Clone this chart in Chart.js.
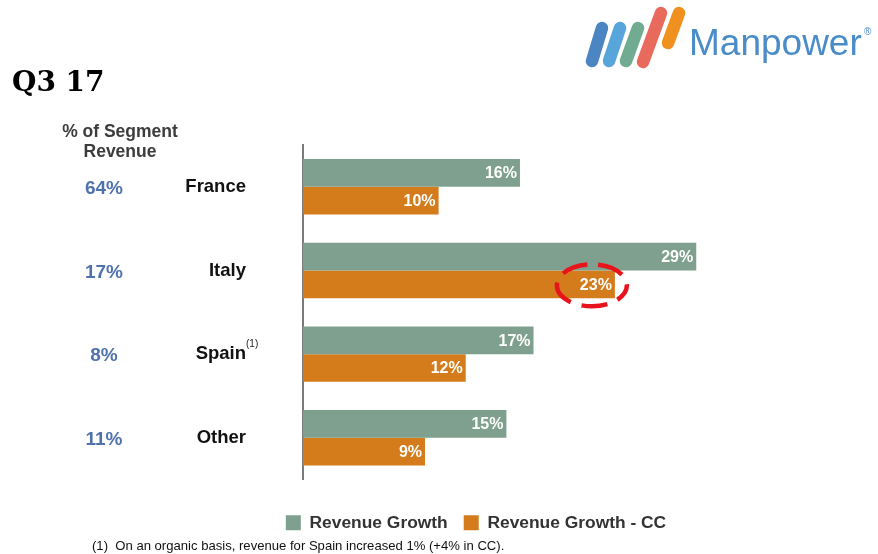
<!DOCTYPE html>
<html><head><meta charset="utf-8">
<script src="https://cdn.jsdelivr.net/npm/chart.js@4"></script>
<style>
html,body{margin:0;padding:0;background:#fff;}
#wrap{position:relative;width:878px;height:554px;overflow:hidden;background:#fff;}
#chart{position:absolute;left:0;top:0;}
.t{position:absolute;white-space:nowrap;}
</style></head><body>
<div id="wrap">
<canvas id="chart" width="878" height="554"></canvas>
<div class="t" style="left:12px;top:68px;font:bold 28px 'DejaVu Serif',serif;line-height:28px;color:#000">Q3 17</div>
<div class="t" style="left:40px;top:121px;width:160px;text-align:center;font:bold 17.5px 'Liberation Sans',Arial,sans-serif;line-height:20px;color:#3c3c3c;white-space:normal">% of Segment<br>Revenue</div>
<div class="t" style="left:92px;top:539px;font:13.1px 'Liberation Sans',Arial,sans-serif;line-height:14px;color:#111">(1)&nbsp; On an organic basis, revenue for Spain increased 1% (+4% in CC).</div>
<svg class="t" style="left:0;top:0" width="878" height="80" xmlns="http://www.w3.org/2000/svg">
  <g stroke-linecap="round" stroke-width="12.5" fill="none">
    <line x1="592" y1="61" x2="602" y2="28" stroke="#4b86c2"/>
    <line x1="609" y1="61" x2="620" y2="28" stroke="#58a5dc"/>
    <line x1="626" y1="61" x2="638" y2="28" stroke="#70ab92"/>
    <line x1="643" y1="62" x2="661" y2="13" stroke="#e86a5c"/>
    <line x1="668" y1="43" x2="679" y2="13" stroke="#f0901f"/>
  </g>
  <text x="689" y="55" font-family="'Liberation Sans',Arial,sans-serif" font-size="37" fill="#4a8cc8">Manpower</text>
  <text x="864" y="35" font-family="'Liberation Sans',Arial,sans-serif" font-size="10" fill="#4a8cc8">®</text>
</svg>
</div>
<script>
// ---- data ----
const categories = ['France', 'Italy', 'Spain', 'Other'];
const segmentShare = [64, 17, 8, 11];          // % of Segment Revenue
const revenueGrowth = [16, 29, 17, 15];        // Revenue Growth (%)
const revenueGrowthCC = [10, 23, 12, 9];       // Revenue Growth - CC (%)
const seriesNames = ['Revenue Growth', 'Revenue Growth - CC'];
const footnoteCategory = 'Spain';
const highlighted = {dataset: 1, category: 'Italy'};

Chart.defaults.font.family = "'Liberation Sans', Arial, sans-serif";

const overlay = {
  id: 'overlay',
  afterDatasetsDraw(chart) {
    const ctx = chart.ctx;
    ctx.save();
    ctx.font = "bold 16px 'Liberation Sans', Arial, sans-serif";
    ctx.fillStyle = '#ffffff';
    ctx.textAlign = 'right';
    ctx.textBaseline = 'middle';
    chart.data.datasets.forEach((ds, di) => {
      chart.getDatasetMeta(di).data.forEach((bar, i) => {
        ctx.fillText(ds.data[i] + '%', bar.x - 3, bar.y + 1);
      });
    });
    const hb = chart.getDatasetMeta(highlighted.dataset).data[categories.indexOf(highlighted.category)];
    ctx.strokeStyle = '#e8141b';
    ctx.lineWidth = 4.5;
    ctx.setLineDash([26, 11]);
    ctx.lineDashOffset = 8;
    ctx.beginPath();
    ctx.ellipse(hb.x - 23, hb.y + 1, 35, 21, 0, 0, Math.PI * 2);
    ctx.stroke();
    ctx.restore();
  },
  afterDraw(chart) {
    const ctx = chart.ctx;
    const ys = chart.scales.y;
    ctx.save();
    ctx.textBaseline = 'middle';
    ctx.textAlign = 'center';
    ctx.font = "bold 19px 'Liberation Sans', Arial, sans-serif";
    ctx.fillStyle = '#4f72ad';
    categories.forEach((c, i) => {
      ctx.fillText(segmentShare[i] + '%', 104, ys.getPixelForValue(i) + 2);
    });
    const fi = categories.indexOf(footnoteCategory);
    ctx.textAlign = 'left';
    ctx.font = "10px 'Liberation Sans', Arial, sans-serif";
    ctx.fillStyle = '#222';
    ctx.fillText('(1)', 246, ys.getPixelForValue(fi) - 10);
    ctx.restore();
  }
};

new Chart(document.getElementById('chart'), {
  type: 'bar',
  data: {
    labels: categories,
    datasets: [
      {label: seriesNames[0], data: revenueGrowth, backgroundColor: '#7fa08e', borderWidth: 0,
       categoryPercentage: 0.663, barPercentage: 1},
      {label: seriesNames[1], data: revenueGrowthCC, backgroundColor: '#d47b1b', borderWidth: 0,
       categoryPercentage: 0.663, barPercentage: 1}
    ]
  },
  options: {
    indexAxis: 'y',
    responsive: false,
    devicePixelRatio: 1,
    animation: false,
    layout: {padding: {top: 145, left: 106.6, right: 32.6, bottom: 12.5}},
    scales: {
      x: {
        min: 0, max: 40,
        ticks: {display: false},
        grid: {display: false, drawTicks: false},
        border: {display: false},
        afterFit: s => { s.height = 18.5; }
      },
      y: {
        ticks: {padding: 57, color: '#111', font: {size: 18.5, weight: 'bold'}},
        grid: {display: false, drawTicks: false},
        border: {display: true, color: '#7a7a7a', width: 2},
        afterFit: s => { s.width = 196.4; }
      }
    },
    plugins: {
      legend: {
        position: 'bottom',
        labels: {boxWidth: 15, boxHeight: 15, padding: 16, color: '#333',
                 font: {size: 17.4, weight: 'bold'}}
      },
      tooltip: {enabled: false}
    }
  },
  plugins: [overlay]
});
</script>
</body></html>
